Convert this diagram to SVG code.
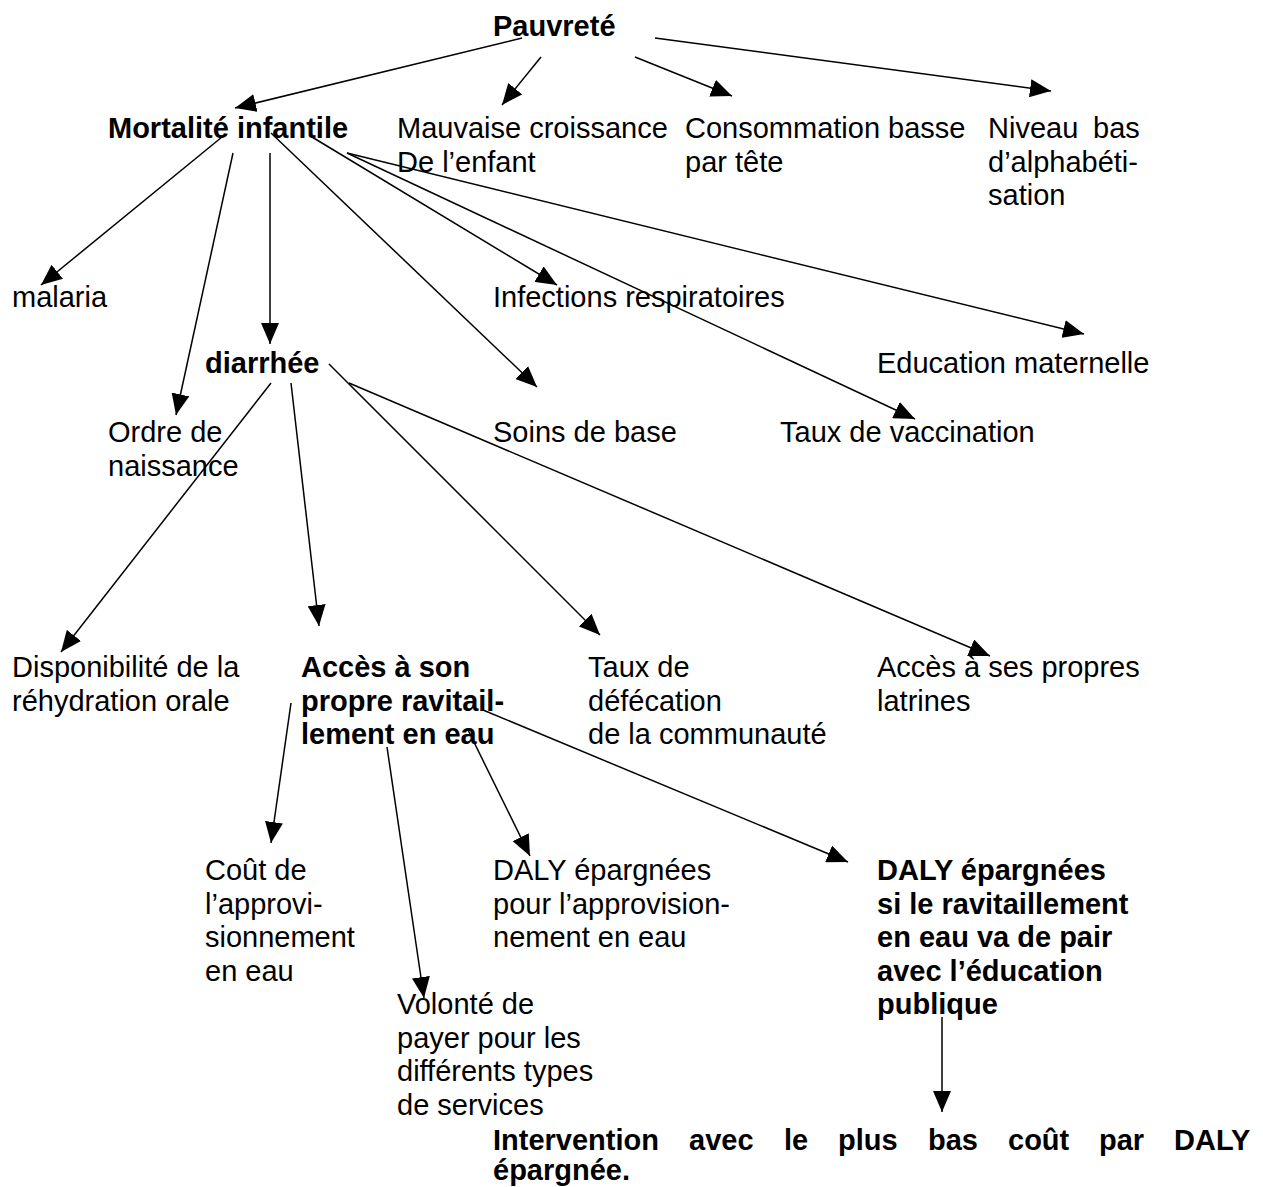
<svg xmlns="http://www.w3.org/2000/svg" width="1263" height="1187" viewBox="0 0 1263 1187">
<style>
text{font-family:"Liberation Sans",Arial,sans-serif;font-size:29px;fill:#000}
.b{font-weight:bold}
.c line{stroke:#000;stroke-width:1.5;marker-end:url(#ah)}
</style>
<defs>
<marker id="ah" markerUnits="userSpaceOnUse" markerWidth="21" markerHeight="18" refX="21" refY="9" orient="auto">
<path d="M0,0 L21,9 L0,18 z" fill="#000"/>
</marker>
</defs>
<rect width="1263" height="1187" fill="#fff"/>
<g class="c" id="connectors">
<line x1="522" y1="38" x2="235" y2="108"/>
<line x1="541" y1="57" x2="502" y2="105"/>
<line x1="635" y1="57" x2="732" y2="96"/>
<line x1="655" y1="38" x2="1051" y2="91"/>
<line x1="222" y1="137" x2="41" y2="285"/>
<line x1="233" y1="153" x2="176" y2="415"/>
<line x1="270" y1="153" x2="270" y2="344"/>
<line x1="271" y1="133" x2="537" y2="387"/>
<line x1="312" y1="137" x2="557" y2="285"/>
<line x1="347" y1="153" x2="915" y2="419"/>
<line x1="347" y1="153" x2="1084" y2="334"/>
<line x1="271" y1="383" x2="61" y2="652"/>
<line x1="291" y1="383" x2="319" y2="626"/>
<line x1="329" y1="364" x2="600" y2="635"/>
<line x1="349" y1="383" x2="990" y2="656"/>
<line x1="291" y1="703" x2="271" y2="843"/>
<line x1="387" y1="747" x2="424" y2="998"/>
<line x1="468" y1="730" x2="530" y2="856"/>
<line x1="483" y1="710" x2="848" y2="862"/>
<line x1="942" y1="1017" x2="942" y2="1112"/>
</g>
<g id="n-pauvrete"><text class="b" x="493" y="36">Pauvreté</text></g>
<g id="n-mortalite"><text class="b" x="108" y="138">Mortalité infantile</text></g>
<g id="n-mauvaise"><text x="397" y="138">Mauvaise croissance</text><text x="397" y="171.5">De l’enfant</text></g>
<g id="n-consommation"><text x="685" y="138">Consommation basse</text><text x="685" y="171.5">par tête</text></g>
<g id="n-niveau"><text x="988" y="138">Niveau<tspan x="1093">bas</tspan></text><text x="988" y="171.5">d’alphabéti-</text><text x="988" y="205">sation</text></g>
<g id="n-malaria"><text x="12" y="307">malaria</text></g>
<g id="n-infections"><text x="493" y="307">Infections respiratoires</text></g>
<g id="n-diarrhee"><text class="b" x="205" y="373">diarrhée</text></g>
<g id="n-education"><text x="877" y="373">Education maternelle</text></g>
<g id="n-ordre"><text x="108" y="442">Ordre de</text><text x="108" y="475.5">naissance</text></g>
<g id="n-soins"><text x="493" y="442">Soins de base</text></g>
<g id="n-vaccination"><text x="780" y="442">Taux de vaccination</text></g>
<g id="n-disponibilite"><text x="12" y="677">Disponibilité de la</text><text x="12" y="710.5">réhydration orale</text></g>
<g id="n-acces-eau"><text class="b" x="301" y="677">Accès à son</text><text class="b" x="301" y="710.5">propre ravitail-</text><text class="b" x="301" y="744">lement en eau</text></g>
<g id="n-defecation"><text x="588" y="677">Taux de</text><text x="588" y="710.5">défécation</text><text x="588" y="744">de la communauté</text></g>
<g id="n-latrines"><text x="877" y="677">Accès à ses propres</text><text x="877" y="710.5">latrines</text></g>
<g id="n-cout"><text x="205" y="880">Coût de</text><text x="205" y="913.5">l’approvi-</text><text x="205" y="947">sionnement</text><text x="205" y="980.5">en eau</text></g>
<g id="n-daly-eau"><text x="493" y="880">DALY épargnées</text><text x="493" y="913.5">pour l’approvision-</text><text x="493" y="947">nement en eau</text></g>
<g id="n-daly-educ"><text class="b" x="877" y="880">DALY épargnées</text><text class="b" x="877" y="913.5">si le ravitaillement</text><text class="b" x="877" y="947">en eau va de pair</text><text class="b" x="877" y="980.5">avec l’éducation</text><text class="b" x="877" y="1014">publique</text></g>
<g id="n-volonte"><text x="397" y="1014">Volonté de</text><text x="397" y="1047.5">payer pour les</text><text x="397" y="1081">différents types</text><text x="397" y="1114.5">de services</text></g>
<g id="n-intervention"><text class="b" y="1150"><tspan x="493">Intervention</tspan><tspan x="689">avec</tspan><tspan x="784">le</tspan><tspan x="838">plus</tspan><tspan x="928">bas</tspan><tspan x="1008">coût</tspan><tspan x="1099">par</tspan><tspan x="1174">DALY</tspan></text><text class="b" x="493" y="1180">épargnée.</text></g>
</svg>
